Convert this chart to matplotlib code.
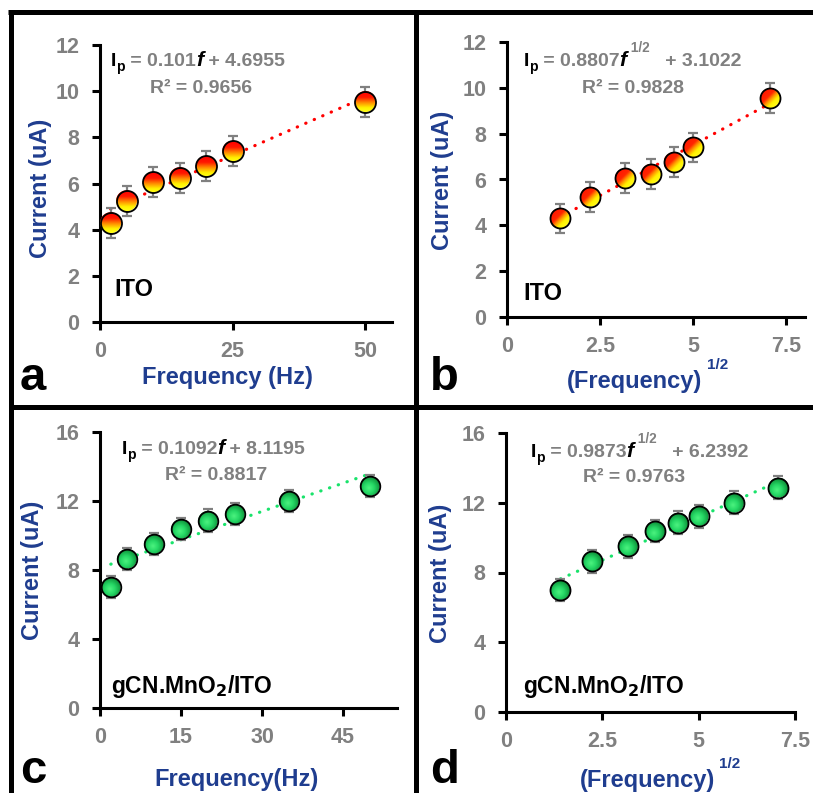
import numpy as np
import matplotlib
matplotlib.use('Agg')
import matplotlib.pyplot as plt
from matplotlib.patches import Circle
from matplotlib.lines import Line2D
from matplotlib.transforms import ScaledTranslation

plt.rcParams['font.family'] = ['Liberation Sans', 'DejaVu Sans']
plt.rcParams['font.weight'] = 'bold'

# data
freq_ito = [2, 5, 10, 15, 20, 25, 50]
cur_ito = [4.3, 5.25, 6.05, 6.25, 6.75, 7.4, 9.55]
err_ito = [0.65, 0.65, 0.65, 0.65, 0.65, 0.65, 0.65]

freq_gcn = [2, 5, 10, 15, 20, 25, 35, 50]
cur_gcn = [7.0, 8.65, 9.5, 10.38, 10.86, 11.23, 12.0, 12.87]
err_gcn = [0.65, 0.65, 0.65, 0.65, 0.65, 0.65, 0.65, 0.65]

# trendline coefficients (slope, intercept) and R^2 as printed
fit_a = (0.101, 4.6955, '0.101', '4.6955', '0.9656')
fit_b = (0.8807, 3.1022, '0.8807', '3.1022', '0.9828')
fit_c = (0.1092, 8.1195, '0.1092', '8.1195', '0.8817')
fit_d = (0.9873, 6.2392, '0.9873', '6.2392', '0.9763')

W, H = 813, 793
fig = plt.figure(figsize=(W / 100, H / 100), dpi=100)

GRAY = '#808080'
BLUE = '#1f3d8f'
EQ_FS = 14


def fx(px):
    return px / W


def fy(py):
    return 1 - py / H


def make_axes(left, right, top, bottom):
    return fig.add_axes([fx(left), fy(bottom), (right - left) / W, (bottom - top) / H])


def gradient(kind, n=64):
    u, v = np.meshgrid(np.linspace(0, 1, n), np.linspace(0, 1, n))
    if kind == 'vert':
        t = v
        stops = [0, 0.3, 0.55, 0.8, 1]
        cols = [(1, 0, 0), (1, 0.1, 0), (1, 0.55, 0), (1, 0.95, 0), (1, 1, 0.1)]
    elif kind == 'diag':
        t = (u + v) / 2
        stops = [0, 0.42, 0.55, 0.68, 1]
        cols = [(1, 0.05, 0), (1, 0.15, 0), (1, 0.6, 0), (1, 0.95, 0), (1, 1, 0.2)]
    else:
        t = np.clip(np.sqrt((u - 0.45) ** 2 + (v - 0.6) ** 2) / 0.65, 0, 1)
        stops = [0, 0.4, 1]
        cols = [(0.3, 0.95, 0.5), (0.15, 0.85, 0.4), (0.03, 0.5, 0.18)]
    img = np.zeros((n, n, 3))
    for k in range(3):
        img[..., k] = np.interp(t, stops, [c[k] for c in cols])
    return img


def draw_points(ax, xs, ys, es, kind, r_in):
    ax.errorbar(xs, ys, yerr=es, fmt='none', ecolor=GRAY, elinewidth=1.6,
                capsize=3.5, capthick=1.6, zorder=3)
    img = gradient(kind)
    for x, y in zip(xs, ys):
        trans = fig.dpi_scale_trans + ScaledTranslation(x, y, ax.transData)
        im = ax.imshow(img, extent=(-r_in, r_in, -r_in, r_in), transform=trans,
                       aspect='auto', interpolation='bilinear', zorder=4)
        im.set_clip_path(Circle((0, 0), r_in, transform=trans))
    ax.plot(xs, ys, 'o', mfc='none', mec='black', mew=1.3, ms=2 * r_in * 72, zorder=5)


def trend(ax, xs, fit, color):
    x0, x1 = min(xs), max(xs)
    ax.plot([x0, x1], [fit[0] * x0 + fit[1], fit[0] * x1 + fit[1]], color=color,
            lw=2.3, linestyle=(0, (0.1, 2.8)), dash_capstyle='round', zorder=2)


def style(ax, xlim, ylim, xticks, xlabels, yticks):
    ax.set_xlim(*xlim)
    ax.set_ylim(*ylim)
    ax.set_xticks(xticks)
    ax.set_xticklabels(xlabels)
    ax.set_yticks(yticks)
    for s in ['top', 'right']:
        ax.spines[s].set_visible(False)
    for s in ['left', 'bottom']:
        ax.spines[s].set_linewidth(2.2)
    ax.tick_params(direction='out', length=6, width=2.2, labelcolor=GRAY, labelsize=15.5)
    ax.tick_params(axis='y', pad=9)
    ax.tick_params(axis='x', pad=8)


def piece(ax, prev, s, y, fs, color, style='normal'):
    return ax.annotate(s, xy=(1, fy(y)), xycoords=(prev, 'figure fraction'),
                       annotation_clip=False, va='baseline', fontsize=fs,
                       color=color, style=style)


def equation(ax, x, y, fit, sqrt):
    fs = EQ_FS
    t = fig.text(fx(x), fy(y), 'I', color='black', fontsize=fs, va='baseline')
    t = piece(ax, t, 'p', y + 5, fs * 0.72, 'black')
    t = piece(ax, t, ' = ' + fit[2], y, fs, GRAY)
    t = piece(ax, t, 'f', y, fs * 1.1, 'black', 'italic')
    if sqrt:
        t = piece(ax, t, ' 1/2', y - 14, fs * 0.7, GRAY)
        piece(ax, t, '   + ' + fit[3], y, fs, GRAY)
    else:
        piece(ax, t, ' + ' + fit[3], y, fs, GRAY)


# panel a
ax = make_axes(100, 392, 45, 322)
style(ax, (0, 55), (0, 12), [0, 25, 50], ['0', '25', '50'], range(0, 13, 2))
trend(ax, freq_ito, fit_a, '#ff0000')
draw_points(ax, freq_ito, cur_ito, err_ito, 'vert', 0.105)
equation(ax, 111, 66, fit_a, False)
fig.text(fx(150), fy(93), 'R² = ' + fit_a[4], color=GRAY, fontsize=EQ_FS, va='baseline')
fig.text(fx(114), fy(296), 'ITO', color='black', fontsize=17, va='baseline')
fig.text(fx(227), fy(384), 'Frequency (Hz)', color=BLUE, fontsize=17, ha='center', va='baseline')
fig.text(fx(40), fy(188), 'Current (uA)', color=BLUE, fontsize=17, ha='center', va='center', rotation=90)
fig.text(fx(20), fy(390), 'a', color='black', fontsize=34, va='baseline')

# panel b
sq_ito = [np.sqrt(f) for f in freq_ito]
ax = make_axes(507, 805, 42, 317)
style(ax, (0, 8), (0, 12), [0, 2.5, 5, 7.5], ['0', '2.5', '5', '7.5'], range(0, 13, 2))
trend(ax, sq_ito, fit_b, '#ff0000')
draw_points(ax, sq_ito, cur_ito, err_ito, 'diag', 0.1)
equation(ax, 524, 66, fit_b, True)
fig.text(fx(582), fy(93), 'R² = ' + fit_b[4], color=GRAY, fontsize=EQ_FS, va='baseline')
fig.text(fx(523), fy(300), 'ITO', color='black', fontsize=17, va='baseline')
fig.text(fx(634), fy(388), '(Frequency)', color=BLUE, fontsize=17, ha='center', va='baseline')
fig.text(fx(707), fy(369), '1/2', color=BLUE, fontsize=11, va='baseline')
fig.text(fx(442), fy(180), 'Current (uA)', color=BLUE, fontsize=17, ha='center', va='center', rotation=90)
fig.text(fx(430), fy(390), 'b', color='black', fontsize=34, va='baseline')

# panel c
ax = make_axes(100, 397, 432, 708)
style(ax, (0, 55), (0, 16), [0, 15, 30, 45], ['0', '15', '30', '45'], range(0, 17, 4))
trend(ax, freq_gcn, fit_c, '#19e36b')
draw_points(ax, freq_gcn, cur_gcn, err_gcn, 'green', 0.098)
equation(ax, 122, 454, fit_c, False)
fig.text(fx(165), fy(480), 'R² = ' + fit_c[4], color=GRAY, fontsize=EQ_FS, va='baseline')
fig.text(fx(111), fy(693), r'gCN.MnO$_\mathbf{2}$/ITO', color='black', fontsize=16.5, va='baseline')
fig.text(fx(236), fy(786), 'Frequency(Hz)', color=BLUE, fontsize=17, ha='center', va='baseline')
fig.text(fx(33), fy(570), 'Current (uA)', color=BLUE, fontsize=17, ha='center', va='center', rotation=90)
fig.text(fx(20), fy(783), 'c', color='black', fontsize=34, va='baseline')

# panel d
sq_gcn = [np.sqrt(f) for f in freq_gcn]
ax = make_axes(506, 795, 433, 712)
style(ax, (0, 7.5), (0, 16), [0, 2.5, 5, 7.5], ['0', '2.5', '5', '7.5'], range(0, 17, 4))
trend(ax, sq_gcn, fit_d, '#19e36b')
draw_points(ax, sq_gcn, cur_gcn, err_gcn, 'green', 0.1)
equation(ax, 531, 457, fit_d, True)
fig.text(fx(583), fy(482), 'R² = ' + fit_d[4], color=GRAY, fontsize=EQ_FS, va='baseline')
fig.text(fx(523), fy(693), r'gCN.MnO$_\mathbf{2}$/ITO', color='black', fontsize=16.5, va='baseline')
fig.text(fx(647), fy(787), '(Frequency)', color=BLUE, fontsize=17, ha='center', va='baseline')
fig.text(fx(719), fy(768), '1/2', color=BLUE, fontsize=11, va='baseline')
fig.text(fx(440), fy(573), 'Current (uA)', color=BLUE, fontsize=17, ha='center', va='center', rotation=90)
fig.text(fx(430), fy(783), 'd', color='black', fontsize=34, va='baseline')

# frame lines between panels
for (x0, y0, x1, y1) in [(8, 12, 813, 12), (10.5, 12, 10.5, 793),
                         (416, 12, 416, 793), (10, 407, 813, 407)]:
    fig.add_artist(Line2D([fx(x0), fx(x1)], [fy(y0), fy(y1)], color='black', lw=3.6,
                          solid_capstyle='butt', transform=fig.transFigure))

fig.savefig('out.png', dpi=100)
